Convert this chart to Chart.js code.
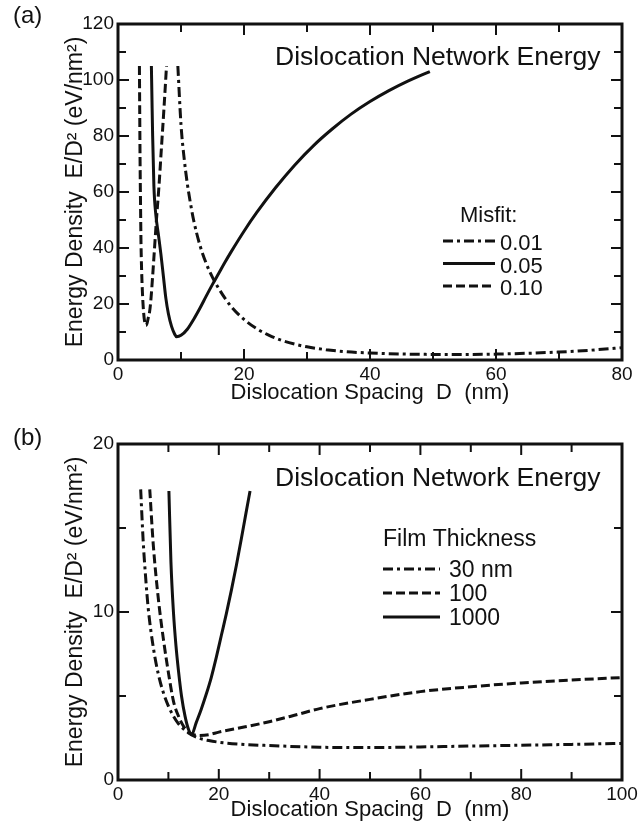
<!DOCTYPE html>
<html>
<head>
<meta charset="utf-8">
<script src="https://cdn.jsdelivr.net/npm/chart.js@4.4.0/dist/chart.umd.min.js"></script>
<style>
html,body{margin:0;padding:0;background:#fff;}
#wrap{position:relative;width:644px;height:827px;}
#chartA{position:absolute;left:0;top:0;}
#chartB{position:absolute;left:0;top:410px;}
</style>
</head>
<body>
<div id="wrap">
<canvas id="chartA" width="644" height="410"></canvas>
<canvas id="chartB" width="644" height="417"></canvas>
</div>
<script>
var ink="#111";

//panel (a): three misfit values
var misfitLabels=["0.01","0.05","0.10"];
var spacingA1=[9.5,10,10.5,11,11.5,12,13,14,15,16,17,18,20,22,24,26,28,30,33,36,40,45,50,55,60,65,70,75,80];
var energyA1=[105,84,72,63,56,50,41,34.5,29.5,25.5,22,19,14.5,11.2,8.8,7.0,5.7,4.7,3.7,3.0,2.5,2.15,2.0,2.0,2.1,2.4,2.85,3.5,4.4];
var spacingA2=[5.3,5.4,5.5,5.7,6.0,6.4,6.8,7.2,7.6,8.0,8.5,9.0,9.3,10,11,12,13,14,15,16,17,18,20,22,25,28,31,34,37,40,43,46,49.5];
var energyA2=[105,92,80,62,52,45,38,30,22,16.5,12,9.2,8.3,8.8,11,14.5,18.5,22.8,27,31,35,38.8,46,52.6,61.5,69.5,76.5,82.5,87.8,92.3,96.2,99.6,103];
var spacingA3=[3.4,3.45,3.5,3.58,3.65,3.75,3.88,4.0,4.15,4.3,4.45,4.6,4.8,5.0,5.2,5.5,5.8,6.1,6.5,6.9,7.3,7.7];
var energyA3=[105,88,72,55,42,32,24,19,15,13,12.3,13,15,17,21,30,40,50,62,76,90,105];

//panel (b): three film thicknesses
var thicknessLabels=["30 nm","100","1000"];
var spacingB1=[4.5,5,5.5,6,7,8,9,10,11,12,14,16,18,20,25,30,40,50,60,70,80,90,100];
var energyB1=[17.3,14.2,12,10.2,7.9,6.3,5.2,4.4,3.8,3.35,2.8,2.5,2.35,2.25,2.12,2.05,1.95,1.93,1.97,2.02,2.07,2.12,2.18];
var spacingB2=[6.3,7,8,9,10,11,12,13,14,15,16,18,20,25,30,35,40,50,60,70,80,90,100];
var energyB2=[17.3,14,10.8,8.4,6.4,4.7,3.8,3.2,2.85,2.7,2.65,2.7,2.85,3.15,3.47,3.85,4.25,4.8,5.26,5.55,5.78,5.95,6.1];
var spacingB3=[10.1,10.5,11,11.5,12,12.6,13.3,14,14.6,15.5,16.5,17.5,18.5,19.5,20.5,21.5,22.5,23.5,24.5,25.4,26.2];
var energyB3=[17.2,13,10,8,6.5,5,3.8,3.0,2.7,3.4,4.2,5.1,6.1,7.3,8.6,9.9,11.3,12.8,14.4,15.9,17.2];

var dashDot=[10,4,3,4];
var dashed=[9,4];

Chart.defaults.font.family='"Liberation Sans", Arial, sans-serif';
Chart.defaults.color=ink;

//turn two arrays into x/y points
function points(xs,ys){
    var out=[];
    for(var i=0;i<xs.length;i++){
        out.push({x:xs[i],y:ys[i]});
    }
    return out;
}

function makeSet(label,xs,ys,dash){
    return {
        label:label,
        data:points(xs,ys),
        borderColor:ink,
        borderWidth:3,
        borderDash:dash,
        pointRadius:0,
        showLine:true,
        fill:false,
        cubicInterpolationMode:'monotone'
    };
}

//frame, inward ticks, panel letter, inner title and legend
var paperPlugin={
    id:'paper',
    afterDraw:function(chart){
        var o=chart.options.plugins.paper;
        var ctx=chart.ctx, a=chart.chartArea;
        var xs=chart.scales.x, ys=chart.scales.y;
        ctx.save();
        ctx.strokeStyle=ink;
        ctx.fillStyle=ink;
        ctx.lineWidth=2;
        ctx.beginPath();
        for(var v=xs.min+o.xMinor;v<xs.max-0.001;v+=o.xMinor){
            var px=xs.getPixelForValue(v);
            var len=Math.abs(v%o.xMajor)<1e-6?11:8;
            ctx.moveTo(px,a.bottom);ctx.lineTo(px,a.bottom-len);
            ctx.moveTo(px,a.top);ctx.lineTo(px,a.top+len);
        }
        for(var w=ys.min+o.yMinor;w<ys.max-0.001;w+=o.yMinor){
            var py=ys.getPixelForValue(w);
            var len2=Math.abs(w%o.yMajor)<1e-6?11:8;
            ctx.moveTo(a.left,py);ctx.lineTo(a.left+len2,py);
            ctx.moveTo(a.right,py);ctx.lineTo(a.right-len2,py);
        }
        ctx.stroke();
        ctx.lineWidth=3;
        ctx.strokeRect(a.left,a.top,a.right-a.left,a.bottom-a.top);

        ctx.textAlign='left';
        ctx.textBaseline='alphabetic';
        ctx.font='24px "Liberation Sans"';
        ctx.fillText(o.panel,13,o.panelY);
        ctx.font='26.5px "Liberation Sans"';
        ctx.fillText(o.title,275,o.titleY);

        ctx.font=o.legendFont;
        ctx.fillText(o.legendTitle,o.legendTitleX,o.legendTitleY);
        for(var k=0;k<chart.data.datasets.length;k++){
            var ds=chart.data.datasets[k];
            var yb=o.legendY0+k*o.legendStep;
            ctx.beginPath();
            ctx.setLineDash(ds.borderDash||[]);
            ctx.lineWidth=3;
            ctx.moveTo(o.lineX0,yb-o.lineLift);
            ctx.lineTo(o.lineX1,yb-o.lineLift);
            ctx.stroke();
            ctx.setLineDash([]);
            ctx.fillText(ds.label,o.textX,yb);
        }
        ctx.restore();
    }
};

function makeChart(id,sets,xMax,yMax,yStep,pad,paper){
    return new Chart(document.getElementById(id),{
        type:'scatter',
        data:{datasets:sets},
        options:{
            responsive:false,
            animation:false,
            devicePixelRatio:1,
            layout:{padding:{top:pad.top,right:22,left:0,bottom:0}},
            scales:{
                x:{
                    type:'linear',min:0,max:xMax,
                    grid:{display:false,drawTicks:false},
                    border:{display:false},
                    ticks:{stepSize:20,padding:3,maxRotation:0,autoSkip:false,font:{size:19}},
                    title:{display:true,text:'Dislocation Spacing  D  (nm)',font:{size:22},padding:{top:0,bottom:4}},
                    afterFit:function(s){s.height=pad.xHeight;}
                },
                y:{
                    type:'linear',min:0,max:yMax,
                    grid:{display:false,drawTicks:false},
                    border:{display:false},
                    ticks:{stepSize:yStep,padding:4,font:{size:19}},
                    title:{display:true,text:'Energy Density  E/D\u00B2 (eV/nm\u00B2)',font:{size:23},padding:{top:62,bottom:0}},
                    afterFit:function(s){s.width=118;}
                }
            },
            plugins:{
                legend:{display:false},
                tooltip:{enabled:false},
                paper:paper
            }
        },
        plugins:[paperPlugin]
    });
}

makeChart('chartA',[
    makeSet(misfitLabels[0],spacingA1,energyA1,dashDot),
    makeSet(misfitLabels[1],spacingA2,energyA2,[]),
    makeSet(misfitLabels[2],spacingA3,energyA3,dashed)
],80,120,20,{top:24,xHeight:50},{
    xMinor:10,xMajor:20,yMinor:10,yMajor:20,
    panel:'(a)',panelY:23,
    title:'Dislocation Network Energy',titleY:65,
    legendFont:'22px "Liberation Sans"',
    legendTitle:'Misfit:',legendTitleX:460,legendTitleY:222,
    legendY0:250,legendStep:22.5,lineLift:9,
    lineX0:443,lineX1:495,textX:500
});

makeChart('chartB',[
    makeSet(thicknessLabels[0],spacingB1,energyB1,dashDot),
    makeSet(thicknessLabels[1],spacingB2,energyB2,dashed),
    makeSet(thicknessLabels[2],spacingB3,energyB3,[])
],100,20,10,{top:34,xHeight:47},{
    xMinor:10,xMajor:20,yMinor:5,yMajor:10,
    panel:'(b)',panelY:35,
    title:'Dislocation Network Energy',titleY:76,
    legendFont:'23px "Liberation Sans"',
    legendTitle:'Film Thickness',legendTitleX:383,legendTitleY:136,
    legendY0:167,legendStep:24,lineLift:8,
    lineX0:383,lineX1:440,textX:449
});
</script>
</body>
</html>
